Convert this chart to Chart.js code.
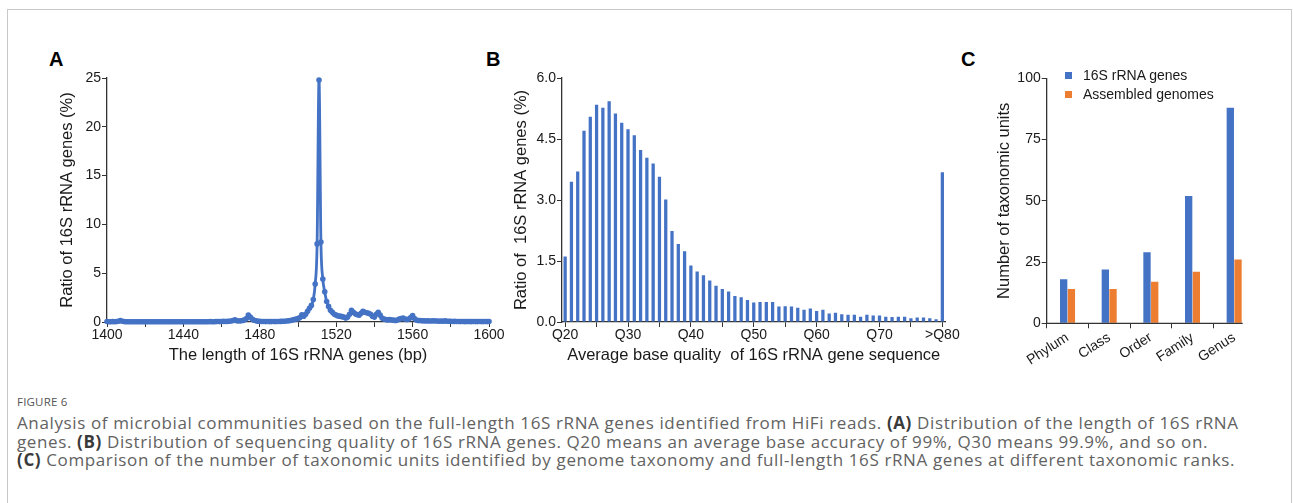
<!DOCTYPE html>
<html>
<head>
<meta charset="utf-8">
<script src="https://cdn.jsdelivr.net/npm/chart.js@4.4.1/dist/chart.umd.min.js"></script>
<style>
  body { margin: 0; background: #fff; width: 1293px; height: 503px; overflow: hidden; position: relative; font-family: "Liberation Sans", Arial, sans-serif; }
  #frame { position: absolute; left: 7px; top: 9px; width: 1285px; height: 540px; border: 1px solid #c9c9c9; box-sizing: border-box; }
  canvas { position: absolute; }
  .panel { position: absolute; font: bold 20px "Liberation Sans", Arial, sans-serif; line-height: 20px; color: #000; }
  #legendC { position: absolute; left: 1065px; top: 66px; font-size: 14px; color: #1a1a1a; }
  #legendC div { position: relative; height: 18.5px; line-height: 18.5px; padding-left: 18px; white-space: nowrap; }
  #legendC span { position: absolute; left: 0; top: 6px; width: 7px; height: 7px; }
  #figlabel { position: absolute; left: 17px; top: 395px; font: 11.5px "Open Sans", sans-serif; line-height: 14px; color: #555; letter-spacing: 0.2px; }
  #caption { position: absolute; left: 17px; top: 414px; width: 1270px; font: 17px "Open Sans", sans-serif; line-height: 18.6px; letter-spacing: 0.62px; color: #626262; white-space: nowrap; }
  #caption b { color: #3a3a3a; }
</style>
</head>
<body>
<div id="frame"></div>
<div class="panel" style="left:49px; top:49px;">A</div>
<div class="panel" style="left:486px; top:49px;">B</div>
<div class="panel" style="left:961px; top:49px;">C</div>

<canvas id="chartA" width="500" height="320" style="left:20px; top:60px;"></canvas>
<canvas id="chartB" width="490" height="320" style="left:480px; top:60px;"></canvas>
<canvas id="chartC" width="330" height="320" style="left:950px; top:60px;"></canvas>
<div id="legendC"></div>

<div id="figlabel">FIGURE 6</div>
<div id="caption">Analysis of microbial communities based on the full-length 16S rRNA genes identified from HiFi reads. <b>(A)</b> Distribution of the length of 16S rRNA<br>genes. <b>(B)</b> Distribution of sequencing quality of 16S rRNA genes. Q20 means an average base accuracy of 99%, Q30 means 99.9%, and so on.<br><b>(C)</b> Comparison of the number of taxonomic units identified by genome taxonomy and full-length 16S rRNA genes at different taxonomic ranks.</div>

<script>
// Panel A: ratio (%) of 16S rRNA genes for each length, 1400 bp .. 1600 bp
const lengthStart = 1400;
const lengthRatio = [
  0.05, 0.03, 0.03, 0.04, 0.03, 0.04, 0.08, 0.15, 0.08, 0.04,
  0.03, 0.03, 0.02, 0.03, 0.02, 0.03, 0.02, 0.02, 0.03, 0.02,
  0.02, 0.03, 0.02, 0.02, 0.03, 0.02, 0.02, 0.02, 0.03, 0.02,
  0.02, 0.02, 0.03, 0.02, 0.02, 0.03, 0.02, 0.02, 0.02, 0.03,
  0.02, 0.03, 0.02, 0.02, 0.03, 0.02, 0.03, 0.02, 0.02, 0.03,
  0.03, 0.02, 0.03, 0.03, 0.04, 0.03, 0.03, 0.04, 0.05, 0.04,
  0.05, 0.06, 0.05, 0.06, 0.08, 0.10, 0.15, 0.22, 0.12, 0.10,
  0.12, 0.15, 0.22, 0.35, 0.72, 0.50, 0.30, 0.18, 0.12, 0.08,
  0.06, 0.05, 0.05, 0.04, 0.05, 0.04, 0.04, 0.05, 0.04, 0.05,
  0.05, 0.06, 0.07, 0.08, 0.10, 0.12, 0.15, 0.20, 0.25, 0.30,
  0.35, 0.45, 0.75, 0.60, 0.80, 1.10, 1.40, 1.70, 2.30, 3.90,
  8.00, 24.80, 8.20, 4.40, 3.10, 2.10, 1.60, 1.20, 1.00, 0.80,
  0.70, 0.62, 0.60, 0.55, 0.50, 0.42, 0.50, 0.80, 1.20, 1.00,
  0.85, 0.75, 0.70, 0.90, 1.10, 1.00, 0.95, 0.90, 0.80, 0.60,
  0.50, 0.80, 1.00, 0.70, 0.40, 0.30, 0.25, 0.20, 0.25, 0.20,
  0.20, 0.15, 0.20, 0.30, 0.35, 0.40, 0.30, 0.25, 0.30, 0.45,
  0.65, 0.35, 0.20, 0.15, 0.15, 0.12, 0.12, 0.10, 0.12, 0.10,
  0.10, 0.12, 0.10, 0.10, 0.08, 0.10, 0.08, 0.12, 0.08, 0.07,
  0.06, 0.05, 0.06, 0.05, 0.05, 0.04, 0.05, 0.04, 0.04, 0.05,
  0.04, 0.04, 0.05, 0.04, 0.04, 0.05, 0.04, 0.04, 0.05, 0.04,
  0.05
];

// Panel B: ratio (%) per average base quality
const qualityLabels = [
  'Q20', 'Q21', 'Q22', 'Q23', 'Q24', 'Q25', 'Q26', 'Q27', 'Q28', 'Q29',
  'Q30', 'Q31', 'Q32', 'Q33', 'Q34', 'Q35', 'Q36', 'Q37', 'Q38', 'Q39',
  'Q40', 'Q41', 'Q42', 'Q43', 'Q44', 'Q45', 'Q46', 'Q47', 'Q48', 'Q49',
  'Q50', 'Q51', 'Q52', 'Q53', 'Q54', 'Q55', 'Q56', 'Q57', 'Q58', 'Q59',
  'Q60', 'Q61', 'Q62', 'Q63', 'Q64', 'Q65', 'Q66', 'Q67', 'Q68', 'Q69',
  'Q70', 'Q71', 'Q72', 'Q73', 'Q74', 'Q75', 'Q76', 'Q77', 'Q78', 'Q79',
  '>Q80'
];
const qualityRatio = [
  1.61, 3.45, 3.70, 4.70, 5.05, 5.34, 5.27, 5.43, 5.13, 4.90,
  4.74, 4.59, 4.23, 4.04, 3.90, 3.57, 3.01, 2.24, 1.92, 1.74,
  1.39, 1.24, 1.15, 1.02, 0.89, 0.81, 0.75, 0.64, 0.61, 0.54,
  0.48, 0.49, 0.49, 0.49, 0.38, 0.39, 0.38, 0.35, 0.30, 0.33,
  0.27, 0.30, 0.21, 0.23, 0.19, 0.18, 0.18, 0.13, 0.18, 0.16,
  0.16, 0.13, 0.12, 0.13, 0.13, 0.09, 0.11, 0.11, 0.09, 0.07,
  3.68
];

// Panel C: number of taxonomic units per rank
const ranks = ['Phylum', 'Class', 'Order', 'Family', 'Genus'];
const rrnaUnits = [18, 22, 29, 52, 88];
const genomeUnits = [14, 14, 17, 21, 26];
const seriesNames = ['16S rRNA genes', 'Assembled genomes'];

const blue = '#4472c4';
const orange = '#ed7d31';
const axisColor = '#333333';
const textColor = '#1a1a1a';

Chart.defaults.font.family = '"Liberation Sans", Arial, sans-serif';
Chart.defaults.color = textColor;
Chart.defaults.animation = false;
Chart.defaults.responsive = false;
Chart.defaults.plugins.legend.display = false;
Chart.defaults.plugins.tooltip.enabled = false;

/**
 * Left value axis with a fixed width so the plot areas line up
 */
function valueAxis(max, step, width, title, titlePad, fmt) {
  return {
    min: 0,
    max: max,
    afterFit: s => { s.width = width; },
    ticks: { stepSize: step, padding: 1, font: { size: 14 }, color: textColor, callback: fmt },
    grid: { drawOnChartArea: false, color: axisColor, tickLength: 5 },
    border: { color: axisColor, width: 1.3 },
    title: { display: true, text: title, font: { size: 16.5 }, color: textColor, padding: { top: titlePad, bottom: 0 } }
  };
}

// A: length distribution
const points = lengthRatio.map((v, i) => ({ x: lengthStart + i, y: v }));
new Chart(document.getElementById('chartA'), {
  type: 'line',
  data: {
    datasets: [{
      data: points,
      borderColor: blue,
      borderWidth: 2.8,
      pointRadius: 2.8,
      pointBackgroundColor: blue,
      pointBorderWidth: 0,
      cubicInterpolationMode: 'monotone',
      clip: 6
    }]
  },
  options: {
    layout: { padding: { left: 0, top: 18, right: 31, bottom: 0 } },
    scales: {
      x: {
        type: 'linear',
        min: 1400,
        max: 1600,
        afterFit: s => { s.height = 58; },
        ticks: { stepSize: 20, autoSkip: false, maxRotation: 0, padding: 0, font: { size: 14 }, color: textColor,
          callback: v => (v % 40 === 0 ? String(v) : '') },
        grid: { drawOnChartArea: false, color: axisColor, tickLength: 5 },
        border: { color: axisColor, width: 1.3 },
        title: { display: true, text: 'The length of 16S rRNA genes (bp)', font: { size: 16.5 }, color: textColor, padding: { top: 0, bottom: 15 } }
      },
      y: valueAxis(25, 5, 87, 'Ratio of 16S rRNA genes (%)', 38, v => String(v))
    }
  }
});

// B: quality distribution
new Chart(document.getElementById('chartB'), {
  type: 'bar',
  data: {
    labels: qualityLabels,
    datasets: [{ data: qualityRatio, backgroundColor: blue, barPercentage: 0.52, categoryPercentage: 1.0 }]
  },
  options: {
    layout: { padding: { left: 0, top: 18, right: 24.5, bottom: 0 } },
    scales: {
      x: {
        afterFit: s => { s.height = 58; },
        ticks: { autoSkip: false, maxRotation: 0, padding: 0, font: { size: 14 }, color: textColor,
          callback: (v, i) => (i % 10 === 0 ? qualityLabels[i] : '') },
        grid: { offset: false, drawOnChartArea: false, tickLength: 5,
          color: ctx => (ctx.index % 5 === 0 ? axisColor : 'rgba(0,0,0,0)') },
        border: { color: axisColor, width: 1.3 },
        title: { display: true, text: 'Average base quality  of 16S rRNA gene sequence', font: { size: 16.5 }, color: textColor, padding: { top: 0, bottom: 15 } }
      },
      y: valueAxis(6, 1.5, 82, 'Ratio of  16S rRNA genes (%)', 32, v => v.toFixed(1))
    }
  }
});

// the x axis of C stops at the last bar instead of the category edge
const axisToLastBar = {
  id: 'axisToLastBar',
  afterDatasetsDraw(chart) {
    const meta = chart.getDatasetMeta(chart.data.datasets.length - 1);
    const bar = meta.data[meta.data.length - 1];
    const { ctx, chartArea } = chart;
    ctx.save();
    ctx.strokeStyle = axisColor;
    ctx.lineWidth = 1.3;
    ctx.beginPath();
    ctx.moveTo(chartArea.left, chartArea.bottom);
    ctx.lineTo(bar.x + bar.width / 2 + 1, chartArea.bottom);
    ctx.stroke();
    ctx.restore();
  }
};

// C: taxonomic units
const chartC = new Chart(document.getElementById('chartC'), {
  type: 'bar',
  data: {
    labels: ranks,
    datasets: [
      { label: seriesNames[0], data: rrnaUnits, backgroundColor: blue, categoryPercentage: 0.37, barPercentage: 0.95 },
      { label: seriesNames[1], data: genomeUnits, backgroundColor: orange, categoryPercentage: 0.37, barPercentage: 0.95 }
    ]
  },
  options: {
    layout: { padding: { left: 0, top: 18.3, right: 25, bottom: 0 } },
    scales: {
      x: {
        afterFit: s => { s.height = 56.7; },
        ticks: { autoSkip: false, minRotation: 33, maxRotation: 33, padding: 1, font: { size: 14 }, color: textColor },
        grid: { drawOnChartArea: false, tickLength: 5,
          color: ctx => (ctx.index === undefined ? 'rgba(0,0,0,0)' : axisColor) },
        border: { display: false }
      },
      y: valueAxis(100, 25, 96.7, 'Number of taxonomic units', 45, v => String(v))
    }
  },
  plugins: [axisToLastBar]
});

// legend of C, from the chart's own datasets
const legendC = document.getElementById('legendC');
chartC.data.datasets.forEach(ds => {
  const row = document.createElement('div');
  const box = document.createElement('span');
  box.style.background = ds.backgroundColor;
  row.appendChild(box);
  row.appendChild(document.createTextNode(ds.label));
  legendC.appendChild(row);
});
</script>
</body>
</html>
